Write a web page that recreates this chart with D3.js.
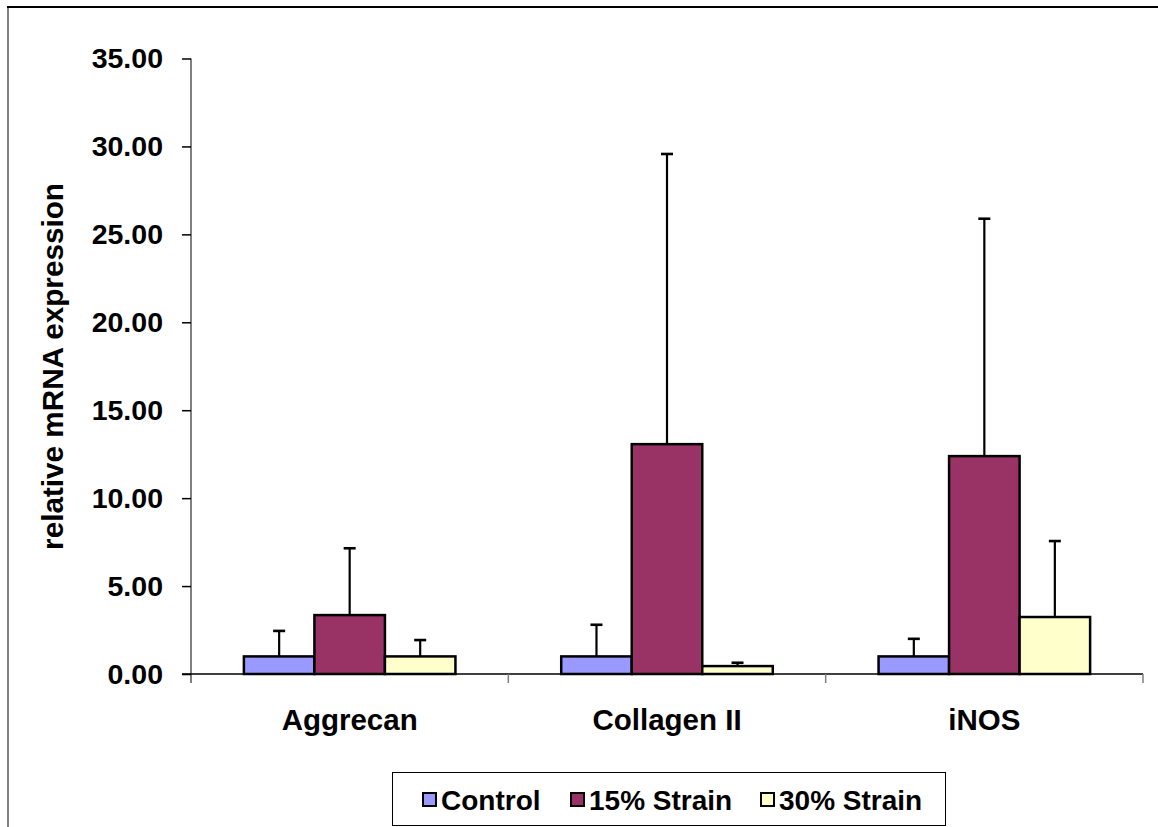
<!DOCTYPE html>
<html>
<head>
<meta charset="utf-8">
<script src="https://cdn.jsdelivr.net/npm/d3@7"></script>
<style>
  html, body { margin: 0; padding: 0; background: #fff; }
  svg { display: block; }
  text { font-family: "Liberation Sans", Arial, sans-serif; font-weight: bold; fill: #000; }
</style>
</head>
<body>
<svg id="chart" width="1158" height="827"></svg>
<script>
// ---- data ----
const categories = ["Aggrecan", "Collagen II", "iNOS"];
const seriesNames = ["Control", "15% Strain", "30% Strain"];
const controlMean = [1.00, 1.00, 1.00];
const controlSD   = [1.45, 1.80, 1.00];
const strain15Mean = [3.35, 13.07, 12.39];
const strain15SD   = [3.80, 16.50, 13.50];
const strain30Mean = [1.00, 0.45, 3.24];
const strain30SD   = [0.93, 0.19, 4.32];
const yTicks = [0, 5, 10, 15, 20, 25, 30, 35];
const colors = ["#9999FF", "#993366", "#FFFFCC"];

const means = [controlMean, strain15Mean, strain30Mean];
const sds = [controlSD, strain15SD, strain30SD];
const rows = [];
categories.forEach((c, ci) => {
  seriesNames.forEach((s, si) => {
    rows.push({ cat: c, series: s, si, mean: means[si][ci], sd: sds[si][ci] });
  });
});

const svg = d3.select("#chart");

// outer frame
svg.append("line").attr("x1", 8).attr("x2", 8).attr("y1", 6).attr("y2", 827)
  .attr("stroke", "#808080").attr("stroke-width", 2);
svg.append("line").attr("x1", 7).attr("x2", 1158).attr("y1", 7).attr("y2", 7)
  .attr("stroke", "#000").attr("stroke-width", 2);

const pLeft = 191, pRight = 1143, pTop = 58.5, pBottom = 674;

const y = d3.scaleLinear().domain([0, 35]).range([pBottom, pTop]);
const x0 = d3.scaleBand().domain(categories).range([pLeft, pRight]).padding(0);
const bw = x0.bandwidth();
const x1 = d3.scaleBand().domain(seriesNames).range([bw / 6, bw * 5 / 6]).padding(0);

// y axis
const yAxis = svg.append("g").attr("transform", `translate(${pLeft},0)`)
  .call(d3.axisLeft(y).tickValues(yTicks).tickFormat(d3.format(".2f")).tickSize(9).tickPadding(19));
yAxis.select(".domain").attr("stroke", "#808080").attr("stroke-width", 2)
  .attr("d", `M0,${pTop}V${pBottom + 9}`);
yAxis.selectAll(".tick line").attr("stroke", "#000").attr("stroke-width", 1.5);
yAxis.selectAll(".tick text").style("font-size", "28.5px")
  .style("font-family", "'Liberation Sans', Arial, sans-serif").style("font-weight", "bold").attr("fill", "#000");

// x axis
const xAxis = svg.append("g").attr("transform", `translate(0,${pBottom})`)
  .call(d3.axisBottom(x0).tickSize(0).tickPadding(35));
xAxis.select(".domain").attr("stroke", "#000").attr("stroke-width", 1.5)
  .attr("d", `M${pLeft - 9},0H${pRight}`);
xAxis.selectAll(".tick text").style("font-size", "29.5px")
  .style("font-family", "'Liberation Sans', Arial, sans-serif").style("font-weight", "bold").attr("fill", "#000");
// category boundary ticks
const bounds = categories.map(c => x0(c) + bw);
svg.append("g").selectAll("line").data(bounds).join("line")
  .attr("x1", d => d).attr("x2", d => d)
  .attr("y1", pBottom).attr("y2", pBottom + 9)
  .attr("stroke", "#808080").attr("stroke-width", 1.5);

// y label
svg.append("text")
  .attr("transform", `translate(63,${(182 + 551) / 2}) rotate(-90)`)
  .attr("text-anchor", "middle")
  .style("font-size", "29.7px")
  .text("relative mRNA expression");

// error bars (upper only)
const eb = svg.append("g");
rows.forEach(r => {
  const cx = x0(r.cat) + x1(r.series) + x1.bandwidth() / 2;
  eb.append("line").attr("x1", cx).attr("x2", cx)
    .attr("y1", y(r.mean)).attr("y2", y(r.mean + r.sd))
    .attr("stroke", "#000").attr("stroke-width", 2.2);
  eb.append("line").attr("x1", cx - 6).attr("x2", cx + 6)
    .attr("y1", y(r.mean + r.sd)).attr("y2", y(r.mean + r.sd))
    .attr("stroke", "#000").attr("stroke-width", 2.6);
});

// bars
svg.append("g").selectAll("rect").data(rows).join("rect")
  .attr("x", d => x0(d.cat) + x1(d.series))
  .attr("y", d => y(d.mean))
  .attr("width", x1.bandwidth())
  .attr("height", d => pBottom - y(d.mean))
  .attr("fill", d => colors[d.si])
  .attr("stroke", "#000").attr("stroke-width", 2.5);

// legend
const lg = svg.append("g");
lg.append("rect").attr("x", 392.5).attr("y", 772.5).attr("width", 553).attr("height", 53)
  .attr("fill", "#fff").attr("stroke", "#000").attr("stroke-width", 1);
const legX = [423, 571, 761];
seriesNames.forEach((s, i) => {
  lg.append("rect").attr("x", legX[i]).attr("y", 793).attr("width", 13).attr("height", 13)
    .attr("fill", colors[i]).attr("stroke", "#000").attr("stroke-width", 2);
  lg.append("text").attr("x", legX[i] + 18).attr("y", 810)
    .style("font-size", "28px").text(s);
});
</script>
</body>
</html>
